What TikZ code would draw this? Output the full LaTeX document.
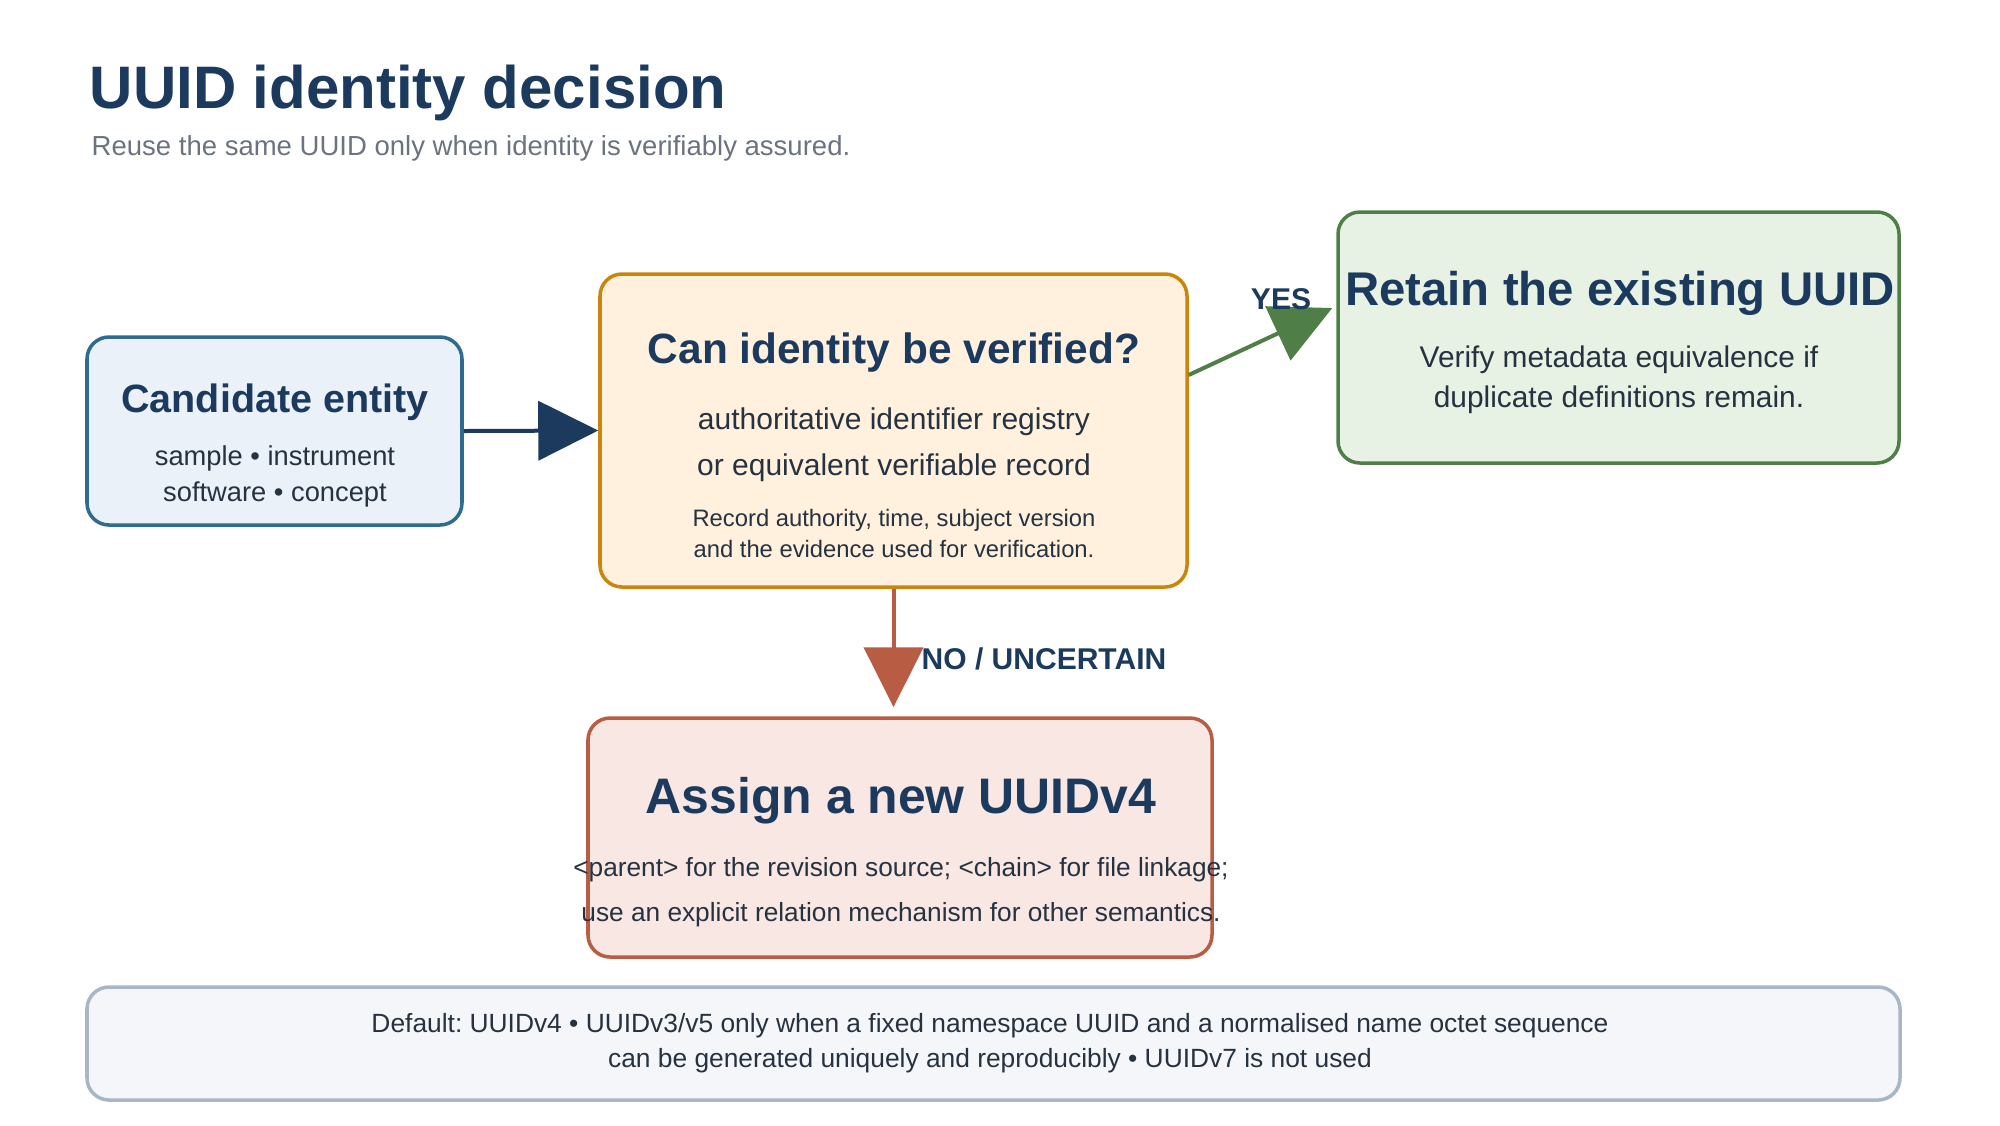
\documentclass[tikz,border=0pt]{standalone}
\usepackage{fontspec}
\setmainfont{Liberation Sans}
\usetikzlibrary{arrows.meta,calc}
\definecolor{navy}{HTML}{1B3A5E}
\definecolor{bodytext}{HTML}{26323F}
\definecolor{subgray}{HTML}{6B7380}
\definecolor{candline}{HTML}{2E6B8F}
\definecolor{candfill}{HTML}{EAF1F9}
\definecolor{decline}{HTML}{C8860F}
\definecolor{decfill}{HTML}{FFF1DE}
\definecolor{retline}{HTML}{4F7F47}
\definecolor{retfill}{HTML}{E7F2E4}
\definecolor{asgline}{HTML}{B85C44}
\definecolor{asgfill}{HTML}{F8E7E2}
\definecolor{footline}{HTML}{A8B6C6}
\definecolor{footfill}{HTML}{F4F6FA}
\frenchspacing

\begin{document}
\begin{tikzpicture}[
  box/.style={draw, rounded corners=0.22cm, line width=1pt, inner sep=0pt},
  txt/.style={anchor=base, inner sep=0pt, text=bodytext},
  head/.style={anchor=base, inner sep=0pt, text=navy, font=\bfseries\fontsize{#1}{#1}\selectfont},
  arr/.style={line width=0.04cm, -{Triangle[length=0.6cm, width=0.59cm]}}]
\useasboundingbox (0,0) rectangle (20,-11.25);

% title
\node[head=17.07, anchor=base west] (title) at (0.89,-1.08) {UUID identity decision};
\node[txt, anchor=base west, text=subgray, font=\fontsize{7.83}{9}\selectfont] (sub) at (0.91,-1.55) {Reuse the same UUID only when identity is verifiably assured.};

% boxes
\node[box, draw=candline, fill=candfill, minimum width=3.75cm, minimum height=1.88cm] (cand) at (2.745,-4.31) {};
\node[box, draw=decline, fill=decfill, minimum width=5.87cm, minimum height=3.13cm] (dec) at (8.935,-4.305) {};
\node[box, draw=retline, fill=retfill, minimum width=5.61cm, minimum height=2.51cm] (ret) at (16.185,-3.375) {};
\node[box, draw=asgline, fill=asgfill, minimum width=6.24cm, minimum height=2.39cm] (asg) at (9.0,-8.375) {};
\node[box, draw=footline, fill=footfill, minimum width=18.13cm, minimum height=1.13cm] (foot) at (9.935,-10.435) {};

% candidate
\node[head=11.24] (candh) at (2.75,-4.12) {Candidate entity};
\node[txt, font=\fontsize{7.77}{9}\selectfont] (cand1) at (2.75,-4.65) {sample • instrument};
\node[txt, font=\fontsize{7.77}{9}\selectfont] (cand2) at (2.75,-5.01) {software • concept};

% decision
\node[head=12.06] (dech) at (8.94,-3.635) {Can identity be verified?};
\node[txt, font=\fontsize{8.54}{10}\selectfont] (dec1) at (8.94,-4.29) {authoritative identifier registry};
\node[txt, font=\fontsize{8.54}{10}\selectfont] (dec2) at (8.94,-4.75) {or equivalent verifiable record};
\node[txt, font=\fontsize{6.77}{8}\selectfont] (dec3) at (8.94,-5.26) {Record authority, time, subject version};
\node[txt, font=\fontsize{6.77}{8}\selectfont] (dec4) at (8.94,-5.57) {and the evidence used for verification.};

% retain
\node[head=13.46] (reth) at (16.2,-3.05) {Retain the existing UUID};
\node[txt, font=\fontsize{8.5}{10}\selectfont] (ret1) at (16.19,-3.67) {Verify metadata equivalence if};
\node[txt, font=\fontsize{8.5}{10}\selectfont] (ret2) at (16.19,-4.07) {duplicate definitions remain.};

% assign
\node[head=14.2] (asgh) at (9.01,-8.13) {Assign a new UUIDv4};
\node[txt, font=\fontsize{7.47}{9}\selectfont] (asg1) at (9.01,-8.76) {<parent> for the revision source; <chain> for file linkage;};
\node[txt, font=\fontsize{7.47}{9}\selectfont] (asg2) at (9.01,-9.21) {use an explicit relation mechanism for other semantics.};

% footer
\node[txt, font=\fontsize{7.5}{9}\selectfont] (foot1) at (9.9,-10.32) {Default: UUIDv4 • UUIDv3/v5 only when a fixed namespace UUID and a normalised name octet sequence};
\node[txt, font=\fontsize{7.5}{9}\selectfont] (foot2) at (9.9,-10.67) {can be generated uniquely and reproducibly • UUIDv7 is not used};

% arrows
\draw[arr, navy] (cand.east) -- (dec.west);
\draw[arr, retline] ($(dec.east)+(0,0.555)$) -- ($(ret.west)+(-0.04,0.295)$);
\draw[arr, asgline] (dec.south) -- ($(dec.south |- asg.north)+(0,0.09)$);
\node[head=8.54] (yes) at (12.81,-3.09) {YES};
\node[head=8.54, anchor=base west] (no) at (9.21,-6.69) {NO / UNCERTAIN};
\end{tikzpicture}
\end{document}
